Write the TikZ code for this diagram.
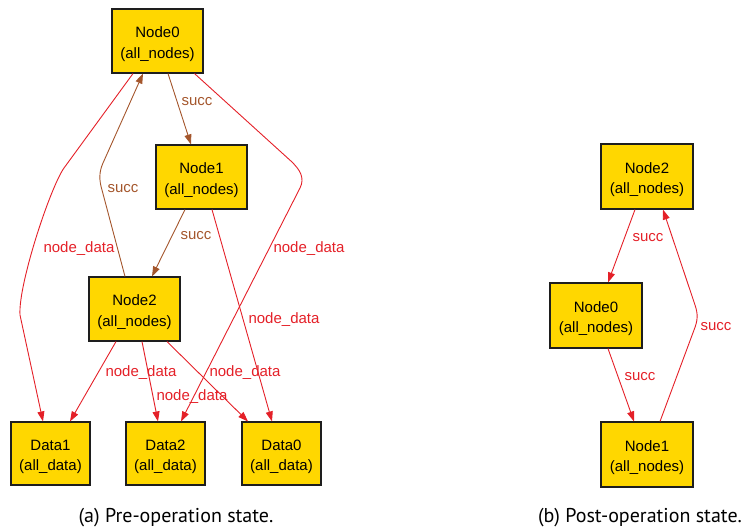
\documentclass[tikz,border=0pt]{standalone}
\usepackage{fontspec}
\setmainfont{Liberation Sans}
\newfontfamily\capfont{PT Sans}
\usetikzlibrary{arrows.meta}
\definecolor{boxfill}{RGB}{255,215,0}
\definecolor{boxline}{RGB}{30,30,30}
\definecolor{edred}{RGB}{228,32,40}
\definecolor{edbrown}{RGB}{164,86,44}
\newcommand\twolines[2]{\rule{0pt}{17pt}#1\\#2}
\tikzset{
  gnode/.style={draw=boxline, line width=1.1pt, fill=boxfill, rectangle, inner sep=0pt,
    minimum width=91pt, minimum height=64pt, align=center,
    font=\fontsize{15}{20.5}\selectfont},
  dnode/.style={gnode, minimum width=79pt, minimum height=63pt},
  rnode/.style={gnode, minimum width=92pt, minimum height=65pt},
  tip/.style={-{Triangle[length=10pt,width=7pt]}},
  nd/.style={draw=edred, line width=0.9pt, tip},
  sc/.style={draw=edbrown, line width=0.9pt, tip},
  rsc/.style={draw=edred, line width=0.9pt, tip},
  lbl/.style={font=\fontsize{15}{17}\selectfont, inner sep=1pt},
  ndl/.style={lbl, text=edred},
  scl/.style={lbl, text=edbrown},
  capt/.style={font=\capfont\fontsize{20}{23}\selectfont, inner sep=0pt}
}
\begin{document}
\begin{tikzpicture}[x=1pt,y=-1pt]
\useasboundingbox (0,0) rectangle (746,531);
% left graph
\node[gnode] (n0) at (157.5,41) {\twolines{Node0}{(all\_nodes)}};
\node[gnode] (n1) at (201.5,177) {\twolines{Node1}{(all\_nodes)}};
\node[gnode] (n2) at (134.5,309) {\twolines{Node2}{(all\_nodes)}};
\node[dnode] (d1) at (50.5,453.5) {\twolines{Data1}{(all\_data)}};
\node[dnode] (d2) at (165.5,453.5) {\twolines{Data2}{(all\_data)}};
\node[dnode] (d0) at (281.5,453.5) {\twolines{Data0}{(all\_data)}};
% edges
\draw[nd] ([xshift=-24.5pt]n0.south) -- (64,168) .. controls (50,188) and (18,285) .. (20,315) -- ([xshift=-7.5pt]d1.north);
\draw[sc] ([xshift=-9.5pt]n2.north) -- (102,190) .. controls (99,180) and (99,172) .. (103,163) -- ([xshift=-14.5pt]n0.south);
\draw[sc] ([xshift=10.5pt]n0.south) -- ([xshift=-10.5pt]n1.north);
\draw[nd] ([xshift=37pt]n0.south) -- (292,162) .. controls (300,170) and (305,178) .. (300,188) -- ([xshift=15.5pt]d2.north);
\draw[sc] ([xshift=-16.5pt]n1.south) -- ([xshift=17.5pt]n2.north);
\draw[nd] ([xshift=10.5pt]n1.south) -- ([xshift=-9.5pt]d0.north);
\draw[nd] ([xshift=-18.5pt]n2.south) -- ([xshift=19.5pt]d1.north);
\draw[nd] ([xshift=7.5pt]n2.south) -- ([xshift=-7.5pt]d2.north);
\draw[nd] ([xshift=32.5pt]n2.south) -- ([xshift=-33.5pt]d0.north);
% labels
\node[scl] (l1) at (197,102) {succ};
\node[scl] (l2) at (123,189) {succ};
\node[scl] (l3) at (196,236) {succ};
\node[ndl] (l4) at (79,249) {node\_data};
\node[ndl] (l5) at (309,249) {node\_data};
\node[ndl] (l6) at (284,320) {node\_data};
\node[ndl] (l7) at (141,373) {node\_data};
\node[ndl] (l8) at (192,397) {node\_data};
\node[ndl] (l9) at (245,373) {node\_data};
% right graph
\node[rnode] (r2) at (647,176.5) {\twolines{Node2}{(all\_nodes)}};
\node[rnode] (r0) at (596,315.5) {\twolines{Node0}{(all\_nodes)}};
\node[rnode] (r1) at (647,454.5) {\twolines{Node1}{(all\_nodes)}};
\draw[rsc] ([xshift=-12pt]r2.south) -- ([xshift=12pt]r0.north);
\draw[rsc] ([xshift=12pt]r0.south) -- ([xshift=-13pt]r1.north);
\draw[rsc] ([xshift=13pt]r1.north) -- (694,330) .. controls (698,320) and (698,314) .. (695,305) -- ([xshift=16pt]r2.south);
\node[ndl] (rl1) at (648,238) {succ};
\node[ndl] (rl2) at (640,377) {succ};
\node[ndl] (rl3) at (716,327) {succ};
% captions
\node[capt] (ca) at (176,518) {(a) Pre-operation state.};
\node[capt] (cb) at (640,518) {(b) Post-operation state.};
\end{tikzpicture}
\end{document}
